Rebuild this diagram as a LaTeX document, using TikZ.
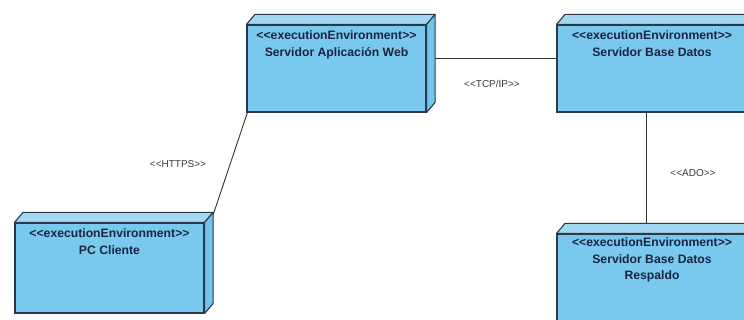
\documentclass[tikz,border=0pt]{standalone}
\usepackage{fontspec}
\setmainfont{Liberation Sans}
\usetikzlibrary{backgrounds}

\definecolor{nodefront}{HTML}{79C9EF}
\definecolor{nodetop}{HTML}{A2D8F2}
\definecolor{nodeside}{HTML}{74C3EA}
\definecolor{nodeedge}{HTML}{2B3A4A}
\definecolor{nodetext}{HTML}{1C2340}
\definecolor{linkline}{HTML}{333333}
\definecolor{linktext}{HTML}{3A3A3A}

\tikzset{
  envbox/.style={draw=nodeedge, fill=nodefront, line width=1.1pt,
    rectangle, inner sep=0pt},
  envtext/.style={anchor=north, yshift=-6.5pt, inner sep=0pt, align=center,
    text=nodetext, font=\bfseries\fontsize{12.2}{16.5}\selectfont},
  topface/.style={draw=nodeedge, fill=nodetop, line width=1.1pt, line join=round},
  sideface/.style={draw=nodeedge, fill=nodeside, line width=1.1pt, line join=round},
  link/.style={draw=linkline, line width=0.9pt},
  linklabel/.style={text=linktext, inner sep=0pt, font=\fontsize{10}{12}\selectfont},
}

% stereotype brackets written as two separate angle signs
\newcommand{\stereo}[1]{<{}<#1>{}>}

% three-dimensional node: front face is the node, top and right faces added
\newcommand{\boxdepth}[1]{%
  \draw[topface] (#1.north west) -- ++(8.5pt,10pt)
    -- ([shift={(8.5pt,10pt)}]#1.north east) -- (#1.north east) -- cycle;
  \draw[sideface] (#1.north east) -- ++(8.5pt,10pt)
    -- ([shift={(8.5pt,10pt)}]#1.south east) -- (#1.south east) -- cycle;
}

\begin{document}
\begin{tikzpicture}[x=1pt, y=-1pt]
  \useasboundingbox (0,0) rectangle (744,320);

  \node[envbox, minimum width=179pt, minimum height=87pt,
        label={[envtext]north:{\stereo{executionEnvironment}\\Servidor Aplicación Web}}]
        (web) at (336.5,68.5) {};
  \node[envbox, minimum width=190pt, minimum height=87pt,
        label={[envtext]north:{\stereo{executionEnvironment}\\Servidor Base Datos}}]
        (db) at (652,68.5) {};
  \node[envbox, minimum width=189pt, minimum height=90pt,
        label={[envtext]north:{\stereo{executionEnvironment}\\PC Cliente}}]
        (pc) at (109.5,268) {};
  \node[envbox, minimum width=190pt, minimum height=92pt,
        label={[envtext, yshift=2pt]north:{\stereo{executionEnvironment}\\Servidor Base Datos\\Respaldo}}]
        (bak) at (652,280) {};

  \boxdepth{web}
  \boxdepth{db}
  \boxdepth{pc}
  \boxdepth{bak}

  \begin{scope}[on background layer]
    \draw[link] ([yshift=10.5pt]web.east) -- ([yshift=10.5pt]db.west);
    \draw[link] ([xshift=-6pt]db.south) -- ([xshift=-6pt]bak.north);
    \draw[link] ([xshift=1pt]web.south west) -- ([xshift=8pt,yshift=6pt]pc.north east);
  \end{scope}

  \node[linklabel] (tcp) at (492,84) {\stereo{TCP/IP}};
  \node[linklabel] (https) at (178,164) {\stereo{HTTPS}};
  \node[linklabel] (ado) at (693,173) {\stereo{ADO}};
\end{tikzpicture}
\end{document}
